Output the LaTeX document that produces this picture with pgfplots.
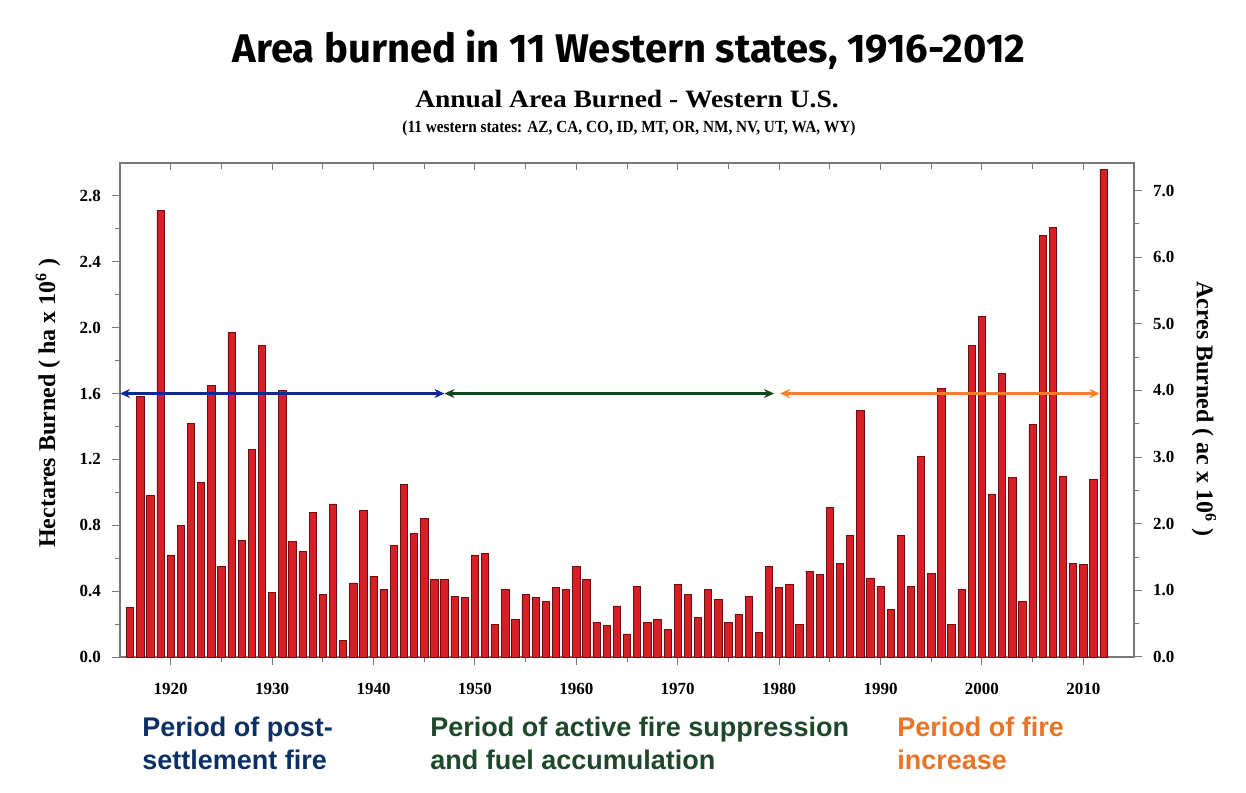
\documentclass[border=0pt]{standalone}
\usepackage{fontspec}
\setmainfont{Liberation Serif}
\newfontfamily\titlefont{Fira Sans}
\newfontfamily\subfont[FakeStretch=1.1]{Liberation Serif}
\newfontfamily\subsubfont[FakeStretch=0.9]{Liberation Serif}
\newfontfamily\armf{Liberation Sans}
\usepackage{pgfplots}
\usepackage{pgfplotstable}
\pgfplotsset{compat=1.18}
\usetikzlibrary{arrows.meta}
\definecolor{barred}{RGB}{214,32,38}
\definecolor{bardark}{RGB}{110,12,16}
\definecolor{arrblue}{RGB}{16,40,150}
\definecolor{arrgreen}{RGB}{18,70,28}
\definecolor{arrorange}{RGB}{250,125,40}
\definecolor{txtblue}{RGB}{12,48,102}
\definecolor{txtgreen}{RGB}{30,72,42}
\definecolor{txtorange}{RGB}{232,116,40}
\definecolor{framegray}{RGB}{120,120,120}
\pgfplotstableread{
year ha
1916 0.30
1917 1.58
1918 0.98
1919 2.71
1920 0.62
1921 0.80
1922 1.42
1923 1.06
1924 1.65
1925 0.55
1926 1.97
1927 0.71
1928 1.26
1929 1.89
1930 0.39
1931 1.62
1932 0.70
1933 0.64
1934 0.88
1935 0.38
1936 0.93
1937 0.10
1938 0.45
1939 0.89
1940 0.49
1941 0.41
1942 0.68
1943 1.05
1944 0.75
1945 0.84
1946 0.47
1947 0.47
1948 0.37
1949 0.36
1950 0.62
1951 0.63
1952 0.20
1953 0.41
1954 0.23
1955 0.38
1956 0.36
1957 0.34
1958 0.42
1959 0.41
1960 0.55
1961 0.47
1962 0.21
1963 0.19
1964 0.31
1965 0.14
1966 0.43
1967 0.21
1968 0.23
1969 0.17
1970 0.44
1971 0.38
1972 0.24
1973 0.41
1974 0.35
1975 0.21
1976 0.26
1977 0.37
1978 0.15
1979 0.55
1980 0.42
1981 0.44
1982 0.20
1983 0.52
1984 0.50
1985 0.91
1986 0.57
1987 0.74
1988 1.50
1989 0.48
1990 0.43
1991 0.29
1992 0.74
1993 0.43
1994 1.22
1995 0.51
1996 1.63
1997 0.20
1998 0.41
1999 1.89
2000 2.07
2001 0.99
2002 1.72
2003 1.09
2004 0.34
2005 1.41
2006 2.56
2007 2.61
2008 1.10
2009 0.57
2010 0.56
2011 1.08
2012 2.96
}\burned
\begin{document}
\begin{tikzpicture}
\path[use as bounding box] (-60pt,-67.5pt) rectangle (563pt,328.5pt);
% top ticks (inside)
\begin{axis}[
  scale only axis, width=507pt, height=247pt,
  xmin=1915, xmax=2015, ymin=0, ymax=1,
  axis line style={draw=none},
  xtick={1920,1930,...,2010}, minor xtick={1925,1935,...,2005},
  xtick pos=top, tick align=inside, xticklabels={}, ytick=\empty,
  major tick length=3.5pt, minor tick length=3pt,
  tick style={framegray, line width=0.5pt},
]
\end{axis}
% right axis (acres)
\begin{axis}[
  scale only axis, width=507pt, height=247pt,
  xmin=1915, xmax=2015, ymin=0, ymax=7.413,
  axis x line=none, axis y line*=right,
  axis line style={draw=framegray, line width=0.6pt, -},
  ytick={0,1,2,3,4,5,6,7}, minor ytick={0.5,1.5,2.5,3.5,4.5,5.5,6.5},
  tick align=outside,
  major tick length=4pt, minor tick length=2.5pt,
  tick style={framegray, line width=0.5pt},
  /pgf/number format/assume math mode=true,
  /pgf/number format/fixed, /pgf/number format/fixed zerofill, /pgf/number format/precision=1,
  ticklabel style={font=\bfseries\fontsize{8.5}{10}\selectfont},
  yticklabel style={xshift=2pt},
]
\end{axis}
% main axis (hectares)
\begin{axis}[
  scale only axis, width=507pt, height=247pt,
  xmin=1915, xmax=2015, ymin=0, ymax=3.0,
  axis line style={draw=framegray, line width=0.6pt},
  xtick={1920,1930,...,2010}, minor xtick={1925,1935,...,2005},
  ytick={0,0.4,0.8,1.2,1.6,2.0,2.4,2.8},
  minor ytick={0.2,0.6,1.0,1.4,1.8,2.2,2.6},
  xtick pos=bottom, ytick pos=left, tick align=outside,
  major tick length=4pt, minor tick length=2.5pt,
  tick style={framegray, line width=0.5pt},
  /pgf/number format/assume math mode=true,
  yticklabel={\pgfmathprintnumber[fixed, fixed zerofill, precision=1]{\tick}},
  xticklabel={\pgfmathprintnumber[fixed, precision=0, 1000 sep={}]{\tick}},
  xticklabel style={yshift=-5.5pt},
  ticklabel style={font=\bfseries\fontsize{8.5}{10}\selectfont},
  yticklabel style={xshift=-2pt},
]
\addplot[ybar, bar width=0.72, fill=barred, draw=bardark, line width=0.35pt] table[x=year, y=ha] {\burned};
\addplot[arrblue, line width=1.3pt, {Stealth[length=5pt,width=4.5pt]}-{Stealth[length=5pt,width=4.5pt]}] coordinates {(1915,1.6) (1947,1.6)};
\addplot[arrgreen, line width=1.3pt, {Stealth[length=5pt,width=4.5pt]}-{Stealth[length=5pt,width=4.5pt]}] coordinates {(1947,1.6) (1979.5,1.6)};
\addplot[arrorange, line width=1.3pt, {Stealth[length=5pt,width=4.5pt]}-{Stealth[length=5pt,width=4.5pt]}] coordinates {(1980.1,1.6) (2011.6,1.6)};
\end{axis}
% titles
\node[font=\titlefont\bfseries\fontsize{20}{24}\selectfont] at (254.5pt,303.5pt) {Area burned in 11 Western states, 1916-2012};
\node[font=\subfont\bfseries\fontsize{12.5}{14}\selectfont] at (253.5pt,279pt) {Annual Area Burned - Western U.S.};
\node[font=\subsubfont\bfseries\fontsize{8.5}{10}\selectfont] at (254.5pt,264.5pt) {(11 western states: AZ, CA, CO, ID, MT, OR, NM, NV, UT, WA, WY)};
% axis labels
\node[rotate=90, font=\bfseries\fontsize{12}{14}\selectfont] at (-36pt,127pt) {Hectares Burned ( ha x 10\textsuperscript{6} )};
\node[rotate=-90, font=\bfseries\fontsize{12}{14}\selectfont] at (542pt,124pt) {Acres Burned ( ac x 10\textsuperscript{6} )};
% period labels
\node[anchor=base west, align=left, inner sep=0pt, text=txtblue, font=\armf\bfseries\fontsize{13.5}{16.5}\selectfont] at (11pt,-56pt) {Period of post-\\settlement fire};
\node[anchor=base west, align=left, inner sep=0pt, text=txtgreen, font=\armf\bfseries\fontsize{13.5}{16.5}\selectfont] at (155pt,-56pt) {Period of active fire suppression\\and fuel accumulation};
\node[anchor=base west, align=left, inner sep=0pt, text=txtorange, font=\armf\bfseries\fontsize{13.5}{16.5}\selectfont] at (388.5pt,-56pt) {Period of fire\\increase};
\end{tikzpicture}
\end{document}
